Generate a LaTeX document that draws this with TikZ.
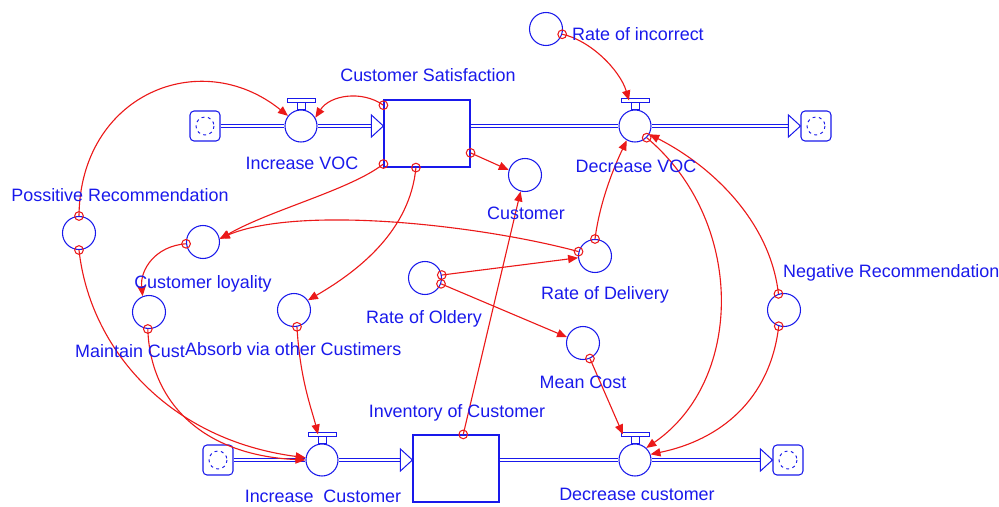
\documentclass[tikz,border=0pt]{standalone}
\usepackage{fontspec}
\setmainfont{Liberation Sans}
\usetikzlibrary{arrows.meta,calc}
\definecolor{vblue}{RGB}{25,25,235}
\definecolor{vred}{RGB}{235,25,25}
\tikzset{
  lbl/.style={text=vblue, font=\fontsize{15.3pt}{18pt}\selectfont, inner sep=0pt},
  auxvar/.style={circle, draw=vblue, line width=0.9pt, minimum size=0.99cm, inner sep=0pt},
  valvebody/.style={circle, draw=vblue, line width=0.9pt, minimum size=0.96cm, inner sep=0pt, fill=white},
  stockbox/.style={rectangle, draw=vblue, line width=1pt, minimum width=2.58cm, minimum height=2.01cm, inner sep=0pt, fill=white},
  cloudbox/.style={rectangle, rounded corners=0.12cm, draw=vblue, line width=0.9pt, minimum size=0.9cm, inner sep=0pt, fill=white},
  pipe/.style={draw=vblue, double=white, double distance=1.8pt, line width=0.85pt},
  link/.style={draw=vred, line width=0.95pt, -{Triangle[length=8.5pt,width=7pt]}},
  origin/.style={circle, draw=vred, line width=0.9pt, minimum size=0.26cm, inner sep=0pt},
}
% flow regulator: circle with a stem and a handle bar on top
\newcommand\valve[2]{%
  \node[valvebody] (#1) at (#2) {};
  \draw[vblue, line width=0.8pt, fill=white] ($(#1.north)+(-4,0)$) rectangle ($(#1.north)+(4,-7)$);
  \draw[vblue, line width=0.8pt, fill=white] ($(#1.north)+(-14,-7)$) rectangle ($(#1.north)+(14,-11)$);
}
% source / sink cloud
\newcommand\sink[2]{%
  \node[cloudbox] (#1) at (#2) {};
  \draw[vblue, line width=0.8pt, dash pattern=on 2.5pt off 3pt] (#1.center) circle (9);
}
% open arrowhead at the end of a pipe, tip at the given point
\newcommand\flowhead[1]{%
  \draw[vblue, line width=0.85pt, fill=white] (#1) -- ++(-12,-11) -- ++(0,22) -- cycle;
}
\begin{document}
\begin{tikzpicture}[x=0.03cm, y=-0.03cm]
\useasboundingbox (0,0) rectangle (999,507);

% ---- stocks ----
\node[stockbox] (cs) at (427,133.5) {};
\node[stockbox] (inv) at (456,468.5) {};

% ---- upper flow: Customer Satisfaction ----
\sink{c1}{205,126}
\sink{c2}{816,126}
\valve{iv}{301,126}
\valve{dv}{635,126}
\draw[pipe] (c1.east) -- (iv.west);
\draw[pipe] (iv.east) -- ($(iv -| cs.west)+(-12,0)$);
\flowhead{iv -| cs.west}
\draw[pipe] (cs.east |- dv) -- (dv.west);
\draw[pipe] (dv.east) -- ($(c2.west)+(-12,0)$);
\flowhead{c2.west}

% ---- lower flow: Inventory of Customer ----
\sink{c3}{218,460}
\sink{c4}{788,460}
\valve{ic}{322,460}
\valve{dc}{635,460}
\draw[pipe] (c3.east) -- (ic.west);
\draw[pipe] (ic.east) -- ($(ic -| inv.west)+(-12,0)$);
\flowhead{ic -| inv.west}
\draw[pipe] (inv.east |- dc) -- (dc.west);
\draw[pipe] (dc.east) -- ($(c4.west)+(-12,0)$);
\flowhead{c4.west}

% ---- auxiliaries ----
\node[auxvar] (ri) at (546,29) {};
\node[auxvar] (cu) at (525,175) {};
\node[auxvar] (pr) at (79,233) {};
\node[auxvar] (cl) at (203,242) {};
\node[auxvar] (mcu) at (149,312) {};
\node[auxvar] (ab) at (294,310) {};
\node[auxvar] (ro) at (425,278) {};
\node[auxvar] (rd) at (595,256) {};
\node[auxvar] (mc) at (583,343) {};
\node[auxvar] (nr) at (784,310) {};

% ---- links ----
\draw[link] (pr.north) node[origin]{} .. controls (80,95) and (200,45) .. (iv.142);
\draw[link] (cs.147) node[origin]{} .. controls (362,90) and (330,95) .. (iv.30);
\draw[link] (cs.215) node[origin]{} .. controls (350,190) and (270,210) .. (cl.10);
\draw[link] (rd.165) node[origin]{} .. controls (480,225) and (300,205) .. (cl.12);
\draw[link] (ro.10) node[origin]{} -- (rd.186);
\draw[link] (ro.-20) node[origin]{} -- (mc.160);
\draw[link] (rd.90) node[origin]{} .. controls (600,200) and (615,165) .. (dv.240);
\draw[link] (cs.-24) node[origin]{} -- (cu.163);
\draw[link] (inv.78) node[origin]{} -- (cu.255);
\draw[link] (cs.252) node[origin]{} .. controls (410,230) and (360,270) .. (ab.35);
\draw[link] (cl.186) node[origin]{} .. controls (155,246) and (140,270) .. (mcu.112);
\draw[link] (mcu.-94) node[origin]{} .. controls (150,400) and (200,455) .. (ic.west);
\draw[link] (pr.south) node[origin]{} .. controls (90,350) and (170,440) .. (ic.172);
\draw[link] (ab.-80) node[origin]{} .. controls (300,380) and (312,410) .. ($(ic.north)+(-4,-9)$);
\draw[link] (ri.-18) node[origin]{} .. controls (590,40) and (620,70) .. ($(dv.north)+(-6,-9)$);
\draw[link] (dv.-45) node[origin]{} .. controls (745,220) and (745,380) .. (dc.47);
\draw[link] (nr.109) node[origin]{} .. controls (770,220) and (710,165) .. (dv.-30);
\draw[link] (nr.-108) node[origin]{} .. controls (770,400) and (720,440) .. (dc.20);
\draw[link] (mc.-66) node[origin]{} -- ($(dc.north)+(-12,-9)$);

% ---- labels ----
\node[lbl, anchor=base] (l-cs) at (428,82) {Customer Satisfaction};
\node[lbl, anchor=base] (l-iv) at (302,169) {Increase VOC};
\node[lbl, anchor=base west] (l-ri) at (572,41) {Rate of incorrect};
\node[lbl, anchor=base] (l-dv) at (636,172) {Decrease VOC};
\node[lbl, anchor=base] (l-pr) at (120,201) {Possitive Recommendation};
\node[lbl, anchor=base] (l-cu) at (526,219) {Customer};
\node[lbl, anchor=base] (l-cl) at (203,288) {Customer loyality};
\node[lbl, anchor=base west] (l-mcu) at (75,357) {Maintain Cust};
\node[lbl, anchor=base west] (l-ab) at (185,355) {Absorb via other Custimers};
\node[lbl, anchor=base] (l-ro) at (424,323) {Rate of Oldery};
\node[lbl, anchor=base] (l-rd) at (605,299) {Rate of Delivery};
\node[lbl, anchor=base] (l-mc) at (583,388) {Mean Cost};
\node[lbl, anchor=base west] (l-nr) at (783,277) {Negative Recommendation};
\node[lbl, anchor=base] (l-inv) at (457,417) {Inventory of Customer};
\node[lbl, anchor=base] (l-ic) at (323,502) {Increase\ \ Customer};
\node[lbl, anchor=base] (l-dc) at (637,500) {Decrease customer};
\end{tikzpicture}
\end{document}
